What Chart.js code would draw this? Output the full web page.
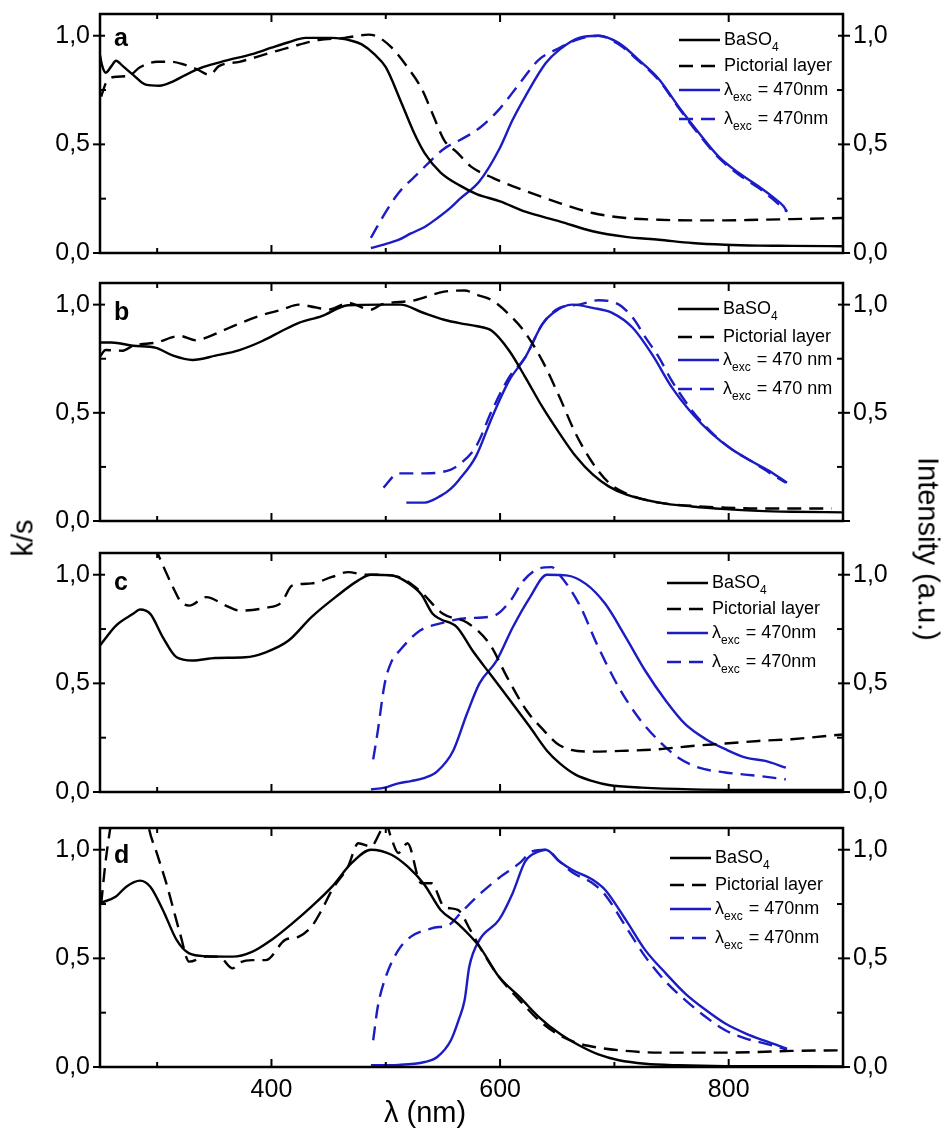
<!DOCTYPE html>
<html lang="en">
<head>
    <meta charset="UTF-8">
    <title>k/s and emission spectra</title>
    <script src="https://cdn.jsdelivr.net/npm/chart.js"></script>
    <style>
        body { margin: 0; background: #fff; }
        #wrap { position: relative; width: 944px; height: 1133px; overflow: hidden; font-family: "Liberation Sans", Arial, sans-serif; }
        .panel { position: absolute; left: 0; }
        .title { position: absolute; font-size: 29px; color: #000; white-space: nowrap; transform: translate(-50%, -50%); }
    </style>
</head>
<body>
<div id="wrap">
    <canvas id="chartA" class="panel"></canvas>
    <canvas id="chartB" class="panel"></canvas>
    <canvas id="chartC" class="panel"></canvas>
    <canvas id="chartD" class="panel"></canvas>
    <div class="title" style="left:23px;top:538px;transform:translate(-50%,-50%) rotate(-90deg)">k/s</div>
    <div class="title" style="left:928px;top:549px;transform:translate(-50%,-50%) rotate(90deg)">Intensity (a.u.)</div>
    <div class="title" style="left:425px;top:1112px">λ (nm)</div>
</div>

<script>
    // axis ticks
    const xRange = [250, 900];
    const yRange = [0, 1.1];
    const xMajor = [400, 600, 800];
    const xMinor = [300, 500, 700];
    const yMajor = [0, 0.5, 1.0];
    const yMinor = [0.25, 0.75];

    // panel a
    const aBasoX = [250, 252, 255, 260, 264, 270, 279, 290, 302, 314, 325, 340, 360, 383, 400, 415, 430, 453, 470, 479, 490, 500, 513, 525, 534, 548, 565, 580, 600, 622, 652, 681, 710, 739, 768, 797, 826, 855, 900];
    const aBasoY = [0.91, 0.86, 0.83, 0.86, 0.885, 0.86, 0.82, 0.775, 0.77, 0.79, 0.82, 0.855, 0.885, 0.915, 0.945, 0.97, 0.99, 0.99, 0.977, 0.96, 0.915, 0.855, 0.70, 0.55, 0.46, 0.37, 0.31, 0.27, 0.238, 0.19, 0.146, 0.10, 0.074, 0.061, 0.046, 0.038, 0.034, 0.033, 0.031];
    const aPictX = [251, 255, 262, 275, 285, 300, 312, 322, 335, 346, 354, 372, 395, 418, 441, 464, 485, 493, 505, 519, 531, 541, 551, 563, 574, 594, 623, 652, 681, 710, 739, 768, 797, 826, 855, 900];
    const aPictY = [0.72, 0.78, 0.81, 0.815, 0.855, 0.88, 0.88, 0.87, 0.845, 0.82, 0.86, 0.88, 0.915, 0.95, 0.98, 0.99, 1.005, 0.995, 0.946, 0.855, 0.76, 0.64, 0.52, 0.46, 0.40, 0.345, 0.284, 0.23, 0.184, 0.161, 0.153, 0.15, 0.15, 0.153, 0.156, 0.161];
    const aEmBasoX = [487, 499, 511, 522, 534, 545, 557, 565, 582, 599, 611, 622, 640, 652, 669, 686, 704, 721, 739, 756, 774, 791, 809, 826, 838, 848, 851];
    const aEmBasoY = [0.023, 0.04, 0.06, 0.09, 0.12, 0.16, 0.21, 0.25, 0.33, 0.475, 0.613, 0.72, 0.874, 0.936, 0.99, 1.0, 0.966, 0.89, 0.80, 0.675, 0.552, 0.445, 0.368, 0.307, 0.26, 0.215, 0.19];
    const aEmPictX = [487, 499, 511, 528, 551, 565, 582, 599, 617, 634, 649, 669, 686, 704, 721, 739, 756, 774, 791, 809, 826, 838, 851];
    const aEmPictY = [0.07, 0.18, 0.275, 0.365, 0.48, 0.52, 0.575, 0.66, 0.78, 0.89, 0.936, 0.985, 1.0, 0.96, 0.885, 0.795, 0.67, 0.545, 0.44, 0.36, 0.30, 0.25, 0.19];

    // panel b
    const bBasoX = [250, 260, 279, 299, 314, 331, 351, 372, 392, 409, 424, 444, 467, 496, 513, 531, 551, 569, 580, 593, 608, 622, 637, 652, 666, 681, 695, 710, 739, 768, 797, 826, 855, 900];
    const bBasoY = [0.825, 0.825, 0.81, 0.80, 0.764, 0.744, 0.764, 0.79, 0.832, 0.878, 0.916, 0.947, 0.997, 1.0, 1.0, 0.966, 0.93, 0.91, 0.90, 0.878, 0.787, 0.665, 0.527, 0.405, 0.30, 0.215, 0.16, 0.123, 0.085, 0.067, 0.055, 0.047, 0.043, 0.04];
    const bPictX = [250, 255, 270, 279, 299, 320, 334, 343, 366, 389, 409, 424, 438, 450, 467, 487, 496, 525, 551, 569, 580, 593, 608, 622, 637, 652, 666, 681, 695, 710, 739, 768, 797, 826, 855, 890];
    const bPictY = [0.76, 0.79, 0.787, 0.81, 0.825, 0.855, 0.835, 0.848, 0.90, 0.947, 0.977, 1.0, 0.988, 0.977, 1.007, 0.977, 1.0, 1.02, 1.06, 1.065, 1.045, 1.02, 0.954, 0.87, 0.74, 0.573, 0.405, 0.268, 0.177, 0.128, 0.085, 0.07, 0.062, 0.058, 0.058, 0.058];
    const bEmBasoX = [518, 534, 548, 557, 564, 579, 593, 608, 622, 637, 646, 663, 681, 698, 716, 733, 750, 768, 785, 803, 820, 838, 851];
    const bEmBasoY = [0.085, 0.085, 0.116, 0.15, 0.19, 0.30, 0.48, 0.65, 0.756, 0.91, 0.96, 1.0, 0.985, 0.962, 0.893, 0.77, 0.62, 0.497, 0.405, 0.33, 0.276, 0.223, 0.177];
    const bEmPictX = [498, 511, 534, 557, 564, 579, 593, 608, 622, 637, 652, 669, 686, 704, 716, 727, 739, 750, 768, 785, 803, 820, 838, 850];
    const bEmPictY = [0.154, 0.22, 0.22, 0.238, 0.26, 0.345, 0.512, 0.665, 0.756, 0.91, 0.985, 1.0, 1.02, 1.0, 0.94, 0.85, 0.756, 0.65, 0.51, 0.41, 0.33, 0.276, 0.215, 0.177];

    // panel c
    const cBasoX = [250, 264, 279, 285, 294, 305, 317, 331, 351, 377, 395, 415, 435, 456, 476, 487, 505, 516, 531, 541, 548, 562, 576, 591, 609, 626, 641, 652, 666, 681, 695, 724, 768, 812, 900];
    const cBasoY = [0.674, 0.766, 0.82, 0.84, 0.82, 0.712, 0.62, 0.605, 0.617, 0.62, 0.643, 0.697, 0.805, 0.897, 0.974, 1.0, 0.997, 0.974, 0.91, 0.82, 0.795, 0.76, 0.65, 0.545, 0.42, 0.30, 0.19, 0.133, 0.08, 0.05, 0.032, 0.02, 0.012, 0.01, 0.01];
    const cPictX = [298, 302, 307, 315, 320, 328, 343, 360, 372, 395, 409, 418, 435, 453, 467, 482, 493, 511, 530, 550, 571, 591, 606, 623, 638, 652, 681, 710, 739, 768, 797, 826, 855, 900];
    const cPictY = [1.13, 1.08, 1.02, 0.93, 0.88, 0.858, 0.897, 0.858, 0.835, 0.848, 0.874, 0.95, 0.96, 0.99, 1.012, 1.0, 1.0, 0.99, 0.925, 0.82, 0.78, 0.68, 0.53, 0.376, 0.285, 0.215, 0.186, 0.19, 0.197, 0.212, 0.223, 0.235, 0.243, 0.265];
    const cEmBasoX = [487, 499, 511, 522, 534, 545, 559, 571, 582, 597, 611, 626, 641, 658, 675, 692, 710, 727, 745, 762, 780, 797, 815, 832, 850];
    const cEmBasoY = [0.012, 0.02, 0.04, 0.05, 0.065, 0.095, 0.19, 0.36, 0.50, 0.605, 0.757, 0.895, 1.0, 0.997, 0.958, 0.866, 0.712, 0.558, 0.42, 0.312, 0.243, 0.197, 0.158, 0.143, 0.112];
    const cEmPictX = [489, 493, 499, 505, 512, 530, 547, 571, 594, 609, 620, 635, 645, 652, 669, 686, 704, 721, 739, 756, 774, 797, 826, 850];
    const cEmPictY = [0.15, 0.28, 0.497, 0.60, 0.65, 0.743, 0.775, 0.80, 0.81, 0.88, 0.97, 1.03, 1.035, 1.0, 0.866, 0.666, 0.48, 0.343, 0.235, 0.158, 0.112, 0.09, 0.074, 0.058];

    // panel d
    const dBasoX = [250, 264, 273, 285, 294, 305, 317, 328, 343, 366, 383, 400, 418, 435, 453, 470, 487, 505, 519, 534, 548, 563, 582, 599, 617, 634, 652, 669, 686, 704, 727, 756, 797, 900];
    const dBasoY = [0.754, 0.785, 0.83, 0.858, 0.83, 0.723, 0.585, 0.523, 0.51, 0.508, 0.53, 0.585, 0.66, 0.738, 0.83, 0.938, 1.0, 0.977, 0.923, 0.838, 0.723, 0.66, 0.554, 0.415, 0.323, 0.23, 0.154, 0.1, 0.058, 0.031, 0.015, 0.008, 0.004, 0.003];
    const dPictX = [251, 255, 259, 262, 290, 292, 300, 308, 320, 328, 343, 354, 366, 372, 383, 395, 412, 424, 435, 444, 453, 467, 476, 487, 496, 500, 505, 511, 519, 531, 540, 551, 563, 574, 582, 599, 617, 634, 652, 669, 686, 710, 739, 768, 797, 826, 855, 900];
    const dPictY = [0.75, 0.95, 1.1, 1.2, 1.2, 1.12, 0.98, 0.846, 0.615, 0.485, 0.508, 0.508, 0.454, 0.48, 0.492, 0.492, 0.585, 0.60, 0.646, 0.723, 0.815, 0.923, 1.03, 1.015, 1.09, 1.12, 1.05, 0.985, 1.03, 0.846, 0.846, 0.738, 0.723, 0.63, 0.554, 0.415, 0.308, 0.215, 0.146, 0.108, 0.089, 0.074, 0.066, 0.066, 0.066, 0.069, 0.074, 0.077];
    const dEmBasoX = [487, 511, 534, 545, 557, 564, 569, 573, 582, 599, 611, 622, 634, 640, 652, 663, 681, 692, 710, 727, 745, 762, 780, 797, 815, 832, 851];
    const dEmBasoY = [0.008, 0.01, 0.023, 0.046, 0.123, 0.22, 0.308, 0.46, 0.585, 0.677, 0.80, 0.946, 0.992, 1.0, 0.946, 0.908, 0.862, 0.815, 0.677, 0.538, 0.431, 0.338, 0.262, 0.2, 0.154, 0.12, 0.085];
    const dEmPictX = [489, 493, 499, 511, 522, 540, 557, 564, 580, 599, 617, 628, 640, 652, 663, 681, 692, 710, 727, 745, 762, 780, 797, 815, 832, 851];
    const dEmPictY = [0.123, 0.277, 0.4, 0.538, 0.6, 0.638, 0.66, 0.70, 0.785, 0.87, 0.938, 0.992, 1.0, 0.946, 0.896, 0.846, 0.792, 0.646, 0.508, 0.392, 0.308, 0.23, 0.169, 0.131, 0.108, 0.08];

    const legendTight = ['BaSO_{4}', 'Pictorial layer', 'λ_{exc} = 470nm', 'λ_{exc} = 470nm'];
    const legendSpaced = ['BaSO_{4}', 'Pictorial layer', 'λ_{exc} = 470 nm', 'λ_{exc} = 470 nm'];

    const BLACK = '#000000';
    const BLUE = '#1c1cc4';
    const DASH = [14, 8];
    const FONT = '"Liberation Sans", Arial, sans-serif';

    Chart.defaults.font.family = FONT;
    Chart.defaults.color = '#000';

    function pts(xs, ys) {
        return xs.map((x, i) => ({x: x, y: ys[i]}));
    }

    function comma(v) {
        return v.toFixed(1).replace('.', ',');
    }

    // frame, inward ticks, panel letter and legend
    const deco = {
        id: 'deco',
        afterDatasetsDraw(chart, args, o) {
            const ctx = chart.ctx;
            const a = chart.chartArea;
            const sx = chart.scales.x, sy = chart.scales.y;
            const seg = (x1, y1, x2, y2) => { ctx.beginPath(); ctx.moveTo(x1, y1); ctx.lineTo(x2, y2); ctx.stroke(); };
            ctx.save();
            ctx.strokeStyle = '#000';
            ctx.setLineDash([]);
            ctx.lineWidth = 2.5;
            ctx.strokeRect(a.left, a.top, a.right - a.left, a.bottom - a.top);
            ctx.lineWidth = 2;
            xMajor.concat(xMinor).forEach(v => {
                const px = sx.getPixelForValue(v);
                const len = xMajor.includes(v) ? 8 : 5;
                seg(px, a.bottom, px, a.bottom - len);
                seg(px, a.top, px, a.top + len);
            });
            yMajor.concat(yMinor).forEach(v => {
                const py = sy.getPixelForValue(v);
                if (yMajor.includes(v)) {
                    seg(a.left - 7, py, a.left + 5, py);
                    seg(a.right - 5, py, a.right + 7, py);
                } else {
                    seg(a.left, py, a.left + 6, py);
                    seg(a.right - 6, py, a.right, py);
                }
            });

            // panel letter
            ctx.fillStyle = '#000';
            ctx.font = 'bold 25px ' + FONT;
            ctx.textBaseline = 'alphabetic';
            ctx.textAlign = 'left';
            ctx.fillText(o.letter, a.left + 14, a.top + o.letterDy);

            // legend
            const lx = a.right + o.legendDx;
            chart.data.datasets.forEach((ds, i) => {
                const y = a.top + o.rows[i];
                ctx.strokeStyle = ds.borderColor;
                ctx.lineWidth = 2.5;
                ctx.setLineDash(ds.borderDash || []);
                seg(lx, y, lx + 41, y);
                ctx.setLineDash([]);
                let tx = lx + 45;
                ds.label.split(/(_\{[^}]*\})/).forEach(part => {
                    if (!part) return;
                    if (part.startsWith('_{')) {
                        const s = part.slice(2, -1);
                        ctx.font = '12px ' + FONT;
                        ctx.textBaseline = 'middle';
                        ctx.fillText(s, tx, y + 8);
                        tx += ctx.measureText(s).width + 1;
                    } else {
                        ctx.font = '18px ' + FONT;
                        ctx.textBaseline = 'middle';
                        ctx.fillText(part, tx, y);
                        tx += ctx.measureText(part).width;
                    }
                });
            });
            ctx.restore();
        }
    };

    function makePanel(id, top, bottom, showX, series, legend, deco_opts, rightZero) {
        const padTop = 30;
        const xAxisH = 45;
        const el = document.getElementById(id);
        const h = (bottom - top) + padTop + (showX ? xAxisH : 30);
        el.width = 944;
        el.height = h;
        el.style.top = (top - padTop) + 'px';
        const styles = [
            {color: BLACK, dash: [], axis: 'y'},
            {color: BLACK, dash: DASH, axis: 'y'},
            {color: BLUE, dash: [], axis: 'y2'},
            {color: BLUE, dash: DASH, axis: 'y2'}
        ];
        const yTicks = (s) => { s.ticks = yMajor.map(v => ({value: v})); };
        new Chart(el, {
            type: 'line',
            data: {
                datasets: series.map((d, i) => ({
                    label: legend[i],
                    data: pts(d[0], d[1]),
                    borderColor: styles[i].color,
                    borderDash: styles[i].dash,
                    borderWidth: 2.4,
                    pointRadius: 0,
                    cubicInterpolationMode: 'monotone',
                    yAxisID: styles[i].axis,
                    fill: false
                }))
            },
            options: {
                responsive: false,
                animation: false,
                devicePixelRatio: 1,
                layout: {padding: {top: padTop, bottom: showX ? 0 : 30, left: 0, right: 0}},
                plugins: {
                    legend: {display: false},
                    tooltip: {enabled: false},
                    deco: deco_opts
                },
                scales: {
                    x: {
                        type: 'linear',
                        min: xRange[0],
                        max: xRange[1],
                        display: showX,
                        grid: {display: false, drawTicks: false},
                        border: {display: false},
                        afterBuildTicks: s => { s.ticks = xMajor.map(v => ({value: v})); },
                        afterFit: s => { if (showX) s.height = xAxisH; },
                        ticks: {font: {size: 25}, padding: 8, maxRotation: 0}
                    },
                    y: {
                        position: 'left',
                        min: yRange[0],
                        max: yRange[1],
                        grid: {display: false, drawTicks: false},
                        border: {display: false},
                        afterBuildTicks: yTicks,
                        afterFit: s => { s.width = 100; },
                        ticks: {font: {size: 25}, padding: 10, callback: v => comma(v)}
                    },
                    y2: {
                        position: 'right',
                        min: yRange[0],
                        max: yRange[1],
                        grid: {display: false, drawTicks: false},
                        border: {display: false},
                        afterBuildTicks: yTicks,
                        afterFit: s => { s.width = 101; },
                        ticks: {font: {size: 25}, padding: 10, callback: v => (v === 0 && !rightZero) ? '' : comma(v)}
                    }
                }
            },
            plugins: [deco]
        });
    }

    makePanel('chartA', 14, 253, false,
        [[aBasoX, aBasoY], [aPictX, aPictY], [aEmBasoX, aEmBasoY], [aEmPictX, aEmPictY]],
        legendTight, {letter: 'a', letterDy: 32, legendDx: -164, rows: [26, 52, 76, 105]}, true);
    makePanel('chartB', 283, 521, false,
        [[bBasoX, bBasoY], [bPictX, bPictY], [bEmBasoX, bEmBasoY], [bEmPictX, bEmPictY]],
        legendSpaced, {letter: 'b', letterDy: 37, legendDx: -165, rows: [26, 54, 77, 106]}, false);
    makePanel('chartC', 553, 792, false,
        [[cBasoX, cBasoY], [cPictX, cPictY], [cEmBasoX, cEmBasoY], [cEmPictX, cEmPictY]],
        legendTight, {letter: 'c', letterDy: 37, legendDx: -176, rows: [30, 56, 80, 109]}, true);
    makePanel('chartD', 828, 1067, true,
        [[dBasoX, dBasoY], [dPictX, dPictY], [dEmBasoX, dEmBasoY], [dEmPictX, dEmPictY]],
        legendTight, {letter: 'd', letterDy: 35, legendDx: -173, rows: [30, 57, 81, 110]}, true);
</script>
</body>
</html>
